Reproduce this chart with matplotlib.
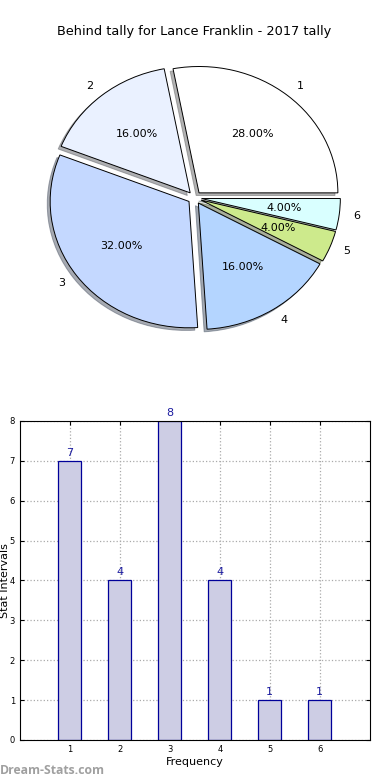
import matplotlib
matplotlib.use("Agg")
import matplotlib.pyplot as plt

# data
slice_labels = ["1", "2", "3", "4", "5", "6"]
slice_values = [7, 4, 8, 4, 1, 1]
slice_colors = ["#ffffff", "#eaf1ff", "#c4d8ff", "#b4d5ff", "#cdea8c", "#d9ffff"]
bar_x = [1, 2, 3, 4, 5, 6]
bar_counts = [7, 4, 8, 4, 1, 1]

fig = plt.figure(figsize=(3.9, 7.8), dpi=100)

# pie (stretched like old matplotlib, no equal aspect)
ax1 = fig.add_axes([0.054, 0.544, 0.89, 0.405])
wedges, texts, autotexts = ax1.pie(
    slice_values, labels=slice_labels, colors=slice_colors,
    explode=[0.05] * len(slice_values),
    shadow={"ox": -0.015, "oy": -0.015, "shade": 0.6}, autopct="%1.2f%%",
    startangle=0, wedgeprops=dict(edgecolor="black", linewidth=0.7),
    textprops=dict(fontsize=8))
ax1.set_aspect("auto")
ax1.set_xlim(-1.25, 1.25)
ax1.set_ylim(-1.25, 1.25)
ax1.set_title("Behind tally for Lance Franklin - 2017 tally", fontsize=9.3, pad=3.5)

# bars
ax2 = fig.add_axes([0.051, 0.0513, 0.897, 0.409])
bars = ax2.bar(bar_x, bar_counts, width=0.46, color="#cdcde4",
               edgecolor="#000099", linewidth=0.9, zorder=2)
for b, v in zip(bars, bar_counts):
    ax2.text(b.get_x() + b.get_width() / 2, v + 0.08, str(v), ha="center",
             va="bottom", color="#1c1ca0", fontsize=8)
ax2.set_xlim(0, 7)
ax2.set_ylim(0, 8)
ax2.set_xticks(bar_x)
ax2.set_yticks(range(0, 9))
ax2.tick_params(labelsize=6, direction="in", top=True, right=True, length=3)
ax2.grid(True, linestyle=":", color="#aaaaaa", linewidth=0.9, zorder=0)
ax2.set_axisbelow(True)
ax2.set_xlabel("Frequency", fontsize=8, labelpad=2)
ax2.set_ylabel("Stat Intervals", fontsize=8)
ax2.yaxis.set_label_coords(-0.027, 0.5)

fig.text(0.0, 0.0128, "Dream-Stats.com", color="#a0a0a0", fontsize=8.8,
         family="Open Sans", fontweight="bold", ha="left", va="center")

fig.savefig("out.png", dpi=100)
